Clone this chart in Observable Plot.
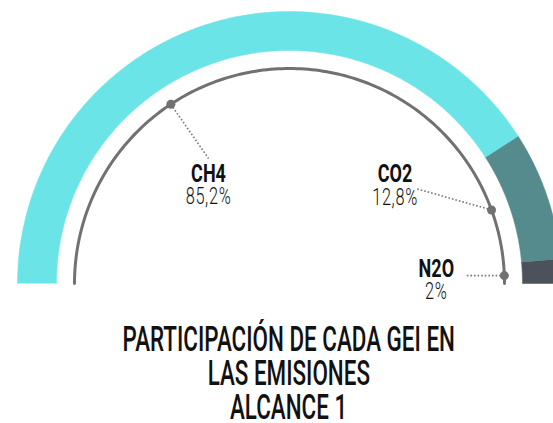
<!DOCTYPE html>
<html><head><meta charset="utf-8">
<script src="https://cdn.jsdelivr.net/npm/d3@7"></script>
<script src="https://cdn.jsdelivr.net/npm/@observablehq/plot@0.6"></script>
<style>
body{margin:0;background:#fff;font-family:Roboto,sans-serif;}
#chart svg{display:block}
#title{width:553px;box-sizing:border-box;padding-left:25px;text-align:center;margin-top:18px;font-size:35px;line-height:34px;color:#111;font-weight:500}
#title div{white-space:nowrap}
#title span{display:inline-block;line-height:28px;transform:scaleX(0.64);transform-origin:center;white-space:nowrap}
</style></head><body>
<div id="chart"></div>
<div id="title"></div>
<script>
// ---- data ----
const gases = ["CH4", "CO2", "N2O"];
const shareLabels = ["85,2%", "12,8%", "2%"];
const arcShares = [81.8, 15.3, 2.9];      // share of the half ring as drawn (%)
const anchorAngles = [-33.5, 70, 87.9];   // where each leader dot sits (deg from top)
const colors = ["#6ae4e7", "#568b8d", "#4b525b"];
const titleLines = ["PARTICIPACIÓN DE CADA GEI EN", "LAS EMISIONES", "ALCANCE 1"];

// ---- layout (styles, not data) ----
const PX = 272;                 // pixels per unit radius
const R_OUT = 1, R_IN = 233 / PX, R_LINE = 215 / PX;
const labelLayout = [           // pixel offsets from the dot: leader end, label baseline
  {lead: [37.7, 54.3], name: [37.7, 77.3]},
  {lead: [-76, -21.5], name: [-96.5, -27.5]},
  {lead: [-38, 0], name: [-68, 1]}
];
const LINE_GAP = 22.5;

const polar = (r, a) => [r * Math.sin(a * Math.PI / 180), r * Math.cos(a * Math.PI / 180)];

// ring polygons
const ring = [];
let cum = 0;
gases.forEach((g, i) => {
  const a0 = -90 + 180 * cum / 100;
  cum += arcShares[i];
  const a1 = -90 + 180 * cum / 100;
  const n = Math.max(2, Math.ceil((a1 - a0) / 0.5));
  const pts = [];
  for (let k = 0; k <= n; k++) pts.push(polar(R_OUT, a0 + (a1 - a0) * k / n));
  for (let k = n; k >= 0; k--) pts.push(polar(R_IN, a0 + (a1 - a0) * k / n));
  pts.forEach(([x, y]) => ring.push({key: g, x, y}));
});

const track = d3.range(-90, 90.001, 1).map(a => { const [x, y] = polar(R_LINE, a); return {x, y}; });

const anchors = gases.map((g, i) => {
  const [x, y] = polar(R_LINE, anchorAngles[i]);
  const L = labelLayout[i];
  return {key: g, label: shareLabels[i], x, y, x2: x + L.lead[0] / PX, y2: y - L.lead[1] / PX};
});

const textMarks = anchors.map((d, i) => {
  const L = labelLayout[i];
  return Plot.text([d], {x: "x", y: "y", text: d => `${d.key}\n${d.label}`, dx: L.name[0], dy: L.name[1],
    lineAnchor: "bottom", textAnchor: "middle", fontFamily: "Roboto", fontSize: 26.5, fill: "#111"});
});

const chart = Plot.plot({
  width: 553, height: 305, margin: 0,
  x: {domain: [-289 / PX, 264 / PX], axis: null},
  y: {domain: [-22 / PX, 283 / PX], axis: null},
  color: {domain: gases, range: colors},
  marks: [
    Plot.line(ring, {x: "x", y: "y", z: "key", fill: "key", stroke: "key", strokeWidth: 0.5, curve: "linear"}),
    Plot.line(track, {x: "x", y: "y", stroke: "#717171", strokeWidth: 3, curve: "linear"}),
    Plot.link(anchors, {x1: "x", y1: "y", x2: "x2", y2: "y2", stroke: "#777", strokeWidth: 1.6, strokeDasharray: "1.6,2"}),
    Plot.dot(anchors, {x: "x", y: "y", r: 4.5, fill: "#717171"}),
    ...textMarks
  ]
});
document.getElementById("chart").append(chart);

// style the two label lines and condense them (Bebas-like narrow face)
chart.querySelectorAll("g[aria-label=text] text").forEach(t => {
  let tr = t.getAttribute("transform") || "";
  const xa = t.getAttribute("x");
  if (xa && !tr) { tr = `translate(${xa},0)`; t.removeAttribute("x"); }
  t.setAttribute("transform", `${tr} scale(0.68,1)`);
  t.removeAttribute("y");
  const spans = t.querySelectorAll("tspan");
  spans.forEach((s, k) => {
    s.removeAttribute("dy");
    s.setAttribute("x", 0);
    s.setAttribute("y", k === 0 ? 0 : LINE_GAP);
    if (k === 0) { s.setAttribute("font-weight", "bold"); s.setAttribute("font-size", 26.5); }
    else { s.setAttribute("font-weight", 300); s.setAttribute("font-size", 24); s.setAttribute("letter-spacing", 1); }
  });
});

const title = document.getElementById("title");
titleLines.forEach(l => {
  const div = document.createElement("div");
  const span = document.createElement("span");
  span.textContent = l;
  div.append(span);
  title.append(div);
});
</script>
</body></html>
